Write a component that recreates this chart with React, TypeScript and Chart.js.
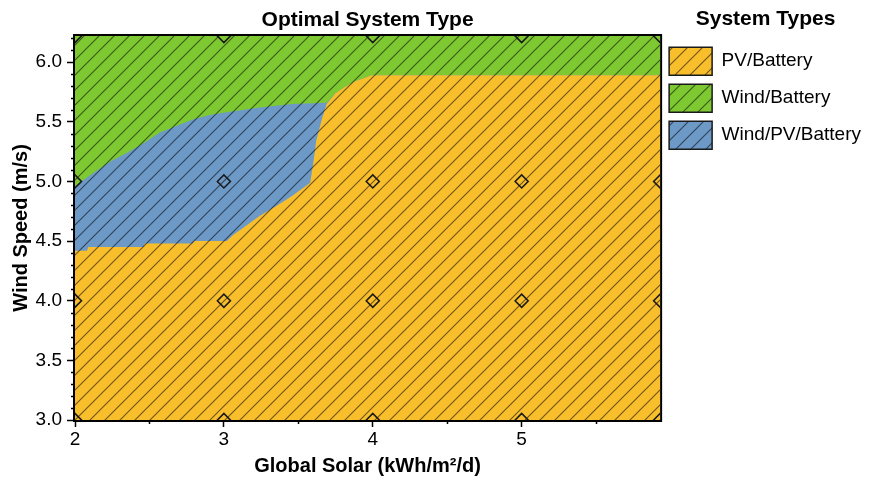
import React, { useEffect, useRef } from 'react';
import { Chart, registerables } from 'chart.js';

Chart.register(...registerables);

// ---- texts ----
const chartTitle = 'Optimal System Type';
const legendTitle = 'System Types';
const xAxisTitle = 'Global Solar (kWh/m²/d)';
const yAxisTitle = 'Wind Speed (m/s)';

// ---- axes ----
const xMin = 2;
const xMax = 5.93;
const yMin = 3;
const yMax = 6.22;
const xTicks = [2, 3, 4, 5];
const xMinorTicks = [2.5, 3.5, 4.5, 5.5];
const yTicks = [3.0, 3.5, 4.0, 4.5, 5.0, 5.5, 6.0];
const yMinorTicks = [
  3.1, 3.2, 3.3, 3.4, 3.6, 3.7, 3.8, 3.9, 4.1, 4.2, 4.3, 4.4, 4.6, 4.7, 4.8, 4.9,
  5.1, 5.2, 5.3, 5.4, 5.6, 5.7, 5.8, 5.9, 6.1, 6.2,
];

// ---- categories ----
const systemTypes = ['PV/Battery', 'Wind/Battery', 'Wind/PV/Battery'];
const systemColors = ['#F9BE2C', '#7EC832', '#6D99C7'];

// ---- sensitivity cases (diamond markers) ----
const solarValues = [2, 3, 4, 5, 5.93];
const windValues = [3, 4, 5, 6.22];

// ---- upper edge of the PV/Battery region ----
const pvTopSolar = [2.0, 2.08, 2.09, 2.46, 2.47, 2.79, 2.8, 3.02, 3.06, 3.24, 3.36, 3.46, 3.58, 3.6, 3.62, 3.66, 3.69, 3.75, 3.81, 3.88, 3.95, 3.99, 5.93];
const pvTopWind = [4.42, 4.42, 4.45, 4.45, 4.48, 4.48, 4.5, 4.5, 4.55, 4.71, 4.8, 4.88, 4.99, 5.15, 5.34, 5.53, 5.65, 5.74, 5.79, 5.84, 5.87, 5.89, 5.89];

// ---- lower edge of the Wind/Battery region ----
const windBottomSolar = [2.0, 2.12, 2.24, 2.35, 2.46, 2.57, 2.69, 2.79, 2.91, 3.02, 3.24, 3.46, 3.69, 3.75, 3.81, 3.88, 3.95, 3.99, 5.93];
const windBottomWind = [4.96, 5.07, 5.17, 5.24, 5.32, 5.41, 5.47, 5.52, 5.56, 5.58, 5.62, 5.65, 5.66, 5.74, 5.79, 5.84, 5.87, 5.89, 5.89];

const FONT = '"Liberation Sans", Arial, Helvetica, sans-serif';

function makeHatch(color: string): CanvasPattern {
  const s = 15;
  const c = document.createElement('canvas');
  c.width = s;
  c.height = s;
  const g = c.getContext('2d') as CanvasRenderingContext2D;
  g.fillStyle = color;
  g.fillRect(0, 0, s, s);
  g.strokeStyle = 'rgba(0,0,0,0.55)';
  g.lineWidth = 1.15;
  g.beginPath();
  g.moveTo(-2, s + 2);
  g.lineTo(s + 2, -2);
  g.moveTo(-2, 2);
  g.lineTo(2, -2);
  g.moveTo(s - 2, s + 2);
  g.lineTo(s + 2, s - 2);
  g.stroke();
  return g.createPattern(c, 'repeat') as CanvasPattern;
}

const toPoints = (xs: number[], ys: number[]) => xs.map((x, i) => ({ x, y: ys[i] }));

const framePlugin = {
  id: 'frameAndMinorTicks',
  afterDatasetsDraw(chart: any) {
    const { ctx, chartArea: a, scales } = chart;
    const xs = scales.x;
    const ys = scales.y;
    ctx.save();
    ctx.strokeStyle = '#000';
    ctx.lineWidth = 2;
    ctx.strokeRect(a.left - 1, a.top - 1, a.right - a.left + 2, a.bottom - a.top + 2);
    ctx.lineWidth = 1.5;
    ctx.beginPath();
    yMinorTicks.forEach((v) => {
      const py = Math.round(ys.getPixelForValue(v)) + 0.5;
      ctx.moveTo(a.left - 4, py);
      ctx.lineTo(a.left, py);
    });
    xMinorTicks.forEach((v) => {
      const px = Math.round(xs.getPixelForValue(v)) + 0.5;
      ctx.moveTo(px, a.bottom);
      ctx.lineTo(px, a.bottom + 4);
    });
    ctx.stroke();
    ctx.restore();
  },
};

export default function App() {
  const ref = useRef<HTMLCanvasElement | null>(null);

  useEffect(() => {
    document.body.style.margin = '0';
    const canvas = ref.current;
    if (!canvas) return;
    Chart.defaults.font.family = FONT;
    Chart.defaults.color = '#000';

    const patterns = systemColors.map(makeHatch);
    const markerPoints = windValues.flatMap((w) => solarValues.map((s) => ({ x: s, y: w })));

    const chart = new Chart(canvas, {
      type: 'line',
      data: {
        datasets: [
          {
            label: 'Sensitivity cases',
            data: markerPoints,
            showLine: false,
            pointStyle: 'rectRot',
            pointRadius: 6.5,
            pointBorderWidth: 1.6,
            pointBorderColor: '#1a1a1a',
            pointBackgroundColor: 'rgba(0,0,0,0)',
            clip: 0,
          } as any,
          {
            label: systemTypes[0],
            data: toPoints(pvTopSolar, pvTopWind),
            fill: 'start',
            backgroundColor: patterns[0],
            borderColor: 'rgba(0,0,0,0)',
            borderWidth: 0,
            pointRadius: 0,
            tension: 0,
            clip: 0,
          } as any,
          {
            label: systemTypes[2],
            data: toPoints(windBottomSolar, windBottomWind),
            fill: 'start',
            backgroundColor: patterns[2],
            borderColor: 'rgba(0,0,0,0)',
            borderWidth: 0,
            pointRadius: 0,
            tension: 0,
            clip: 0,
          } as any,
          {
            label: systemTypes[1],
            data: toPoints(windBottomSolar, windBottomWind),
            fill: 'end',
            backgroundColor: patterns[1],
            borderColor: patterns[1],
            borderWidth: 2,
            pointRadius: 0,
            tension: 0,
            clip: 0,
          } as any,
        ],
      },
      options: {
        responsive: false,
        maintainAspectRatio: false,
        animation: false,
        devicePixelRatio: 1,
        events: [],
        layout: { padding: { left: 0, top: 0, right: 0, bottom: 0 } },
        plugins: {
          tooltip: { enabled: false },
          title: {
            display: true,
            text: chartTitle,
            fullSize: false,
            color: '#000',
            font: { size: 21, weight: 'bold', lineHeight: 1.2 },
            padding: { top: 8, bottom: 2.8 },
          },
          legend: {
            display: true,
            position: 'right',
            align: 'start',
            title: {
              display: true,
              text: legendTitle,
              color: '#000',
              font: { size: 21, weight: 'bold', lineHeight: 1.2 },
              padding: { top: 9, bottom: 4 },
            },
            labels: {
              boxWidth: 43,
              boxHeight: 28,
              padding: 9,
              color: '#000',
              font: { size: 19 },
              filter: (item: any) => systemTypes.includes(item.text),
              sort: (a: any, b: any) => systemTypes.indexOf(a.text) - systemTypes.indexOf(b.text),
              generateLabels: (ch: any) => {
                const items = (Chart.defaults.plugins.legend.labels as any).generateLabels(ch);
                return items.map((it: any) => {
                  const idx = systemTypes.indexOf(it.text);
                  return {
                    ...it,
                    fillStyle: idx >= 0 ? patterns[idx] : it.fillStyle,
                    strokeStyle: '#1a1a1a',
                    lineWidth: 1.5,
                    lineDash: [],
                    fontColor: '#000',
                  };
                });
              },
            },
          },
        },
        scales: {
          x: {
            type: 'linear',
            min: xMin,
            max: xMax,
            afterBuildTicks: (s: any) => {
              s.ticks = xTicks.map((v) => ({ value: v }));
            },
            afterFit: (s: any) => {
              s.height = 61;
            },
            ticks: {
              autoSkip: false,
              maxRotation: 0,
              padding: 1,
              color: '#000',
              font: { size: 19 },
              callback: (v: any) => String(v),
            },
            grid: {
              display: true,
              drawOnChartArea: false,
              drawTicks: true,
              tickLength: 7,
              tickColor: '#000',
              tickWidth: 1.5,
            },
            border: { display: false },
            title: {
              display: true,
              text: xAxisTitle,
              color: '#000',
              font: { size: 20, weight: 'bold', lineHeight: 1.2 },
              padding: { top: 2, bottom: 3 },
            },
          },
          y: {
            type: 'linear',
            min: yMin,
            max: yMax,
            afterBuildTicks: (s: any) => {
              s.ticks = yTicks.map((v) => ({ value: v }));
            },
            afterFit: (s: any) => {
              s.width = 75;
            },
            ticks: {
              autoSkip: false,
              padding: 5,
              color: '#000',
              font: { size: 19 },
              callback: (v: any) => Number(v).toFixed(1),
            },
            grid: {
              display: true,
              drawOnChartArea: false,
              drawTicks: true,
              tickLength: 8,
              tickColor: '#000',
              tickWidth: 1.5,
            },
            border: { display: false },
            title: {
              display: true,
              text: yAxisTitle,
              color: '#000',
              font: { size: 20, weight: 'bold', lineHeight: 1.2 },
              padding: { top: 9, bottom: 2 },
            },
          },
        },
      } as any,
      plugins: [framePlugin],
    });

    return () => {
      chart.destroy();
    };
  }, []);

  return (
    <div style={{ width: 871, height: 481, overflow: 'hidden' }}>
      <canvas ref={ref} width={871} height={481} style={{ display: 'block' }} />
    </div>
  );
}
